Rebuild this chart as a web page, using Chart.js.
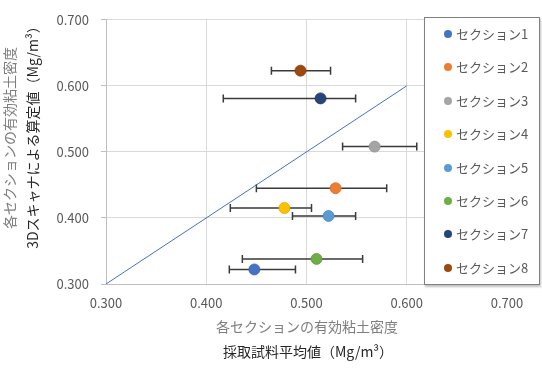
<!DOCTYPE html>
<html lang="ja">
<head>
  <meta charset="UTF-8" />
  <script src="https://cdn.jsdelivr.net/npm/chart.js"></script>
  <title>有効粘土密度</title>
  <style>
    html, body { margin: 0; padding: 0; background: #fff; }
    #wrap { position: relative; width: 542px; height: 368px; }
    #legend {
      position: absolute; left: 424px; top: 17px; width: 114px; height: 266px;
      background: #fff; border: 1px solid #7f7f7f;
      box-shadow: 1px 2px 2px rgba(0,0,0,0.25);
      font-family: "Noto Sans CJK JP", sans-serif; font-size: 13px; color: #595959;
    }
    #legend .item { position: absolute; left: 0; height: 18px; line-height: 18px; white-space: nowrap; }
    #legend .dot { position: absolute; left: 19px; top: 5px; width: 8px; height: 8px; border-radius: 50%; }
    #legend .txt { position: absolute; left: 31px; top: 0; }
  </style>
</head>
<body>
  <div id="wrap">
    <canvas id="chart" width="542" height="368"></canvas>
    <div id="legend"></div>
  </div>

  <script>
    // series data
    const sections = ['セクション1', 'セクション2', 'セクション3', 'セクション4', 'セクション5', 'セクション6', 'セクション7', 'セクション8'];
    const sampleMean = [0.448, 0.529, 0.568, 0.478, 0.522, 0.510, 0.514, 0.494];   // x
    const scanValue  = [0.322, 0.445, 0.508, 0.415, 0.403, 0.338, 0.581, 0.623];   // y
    const errLow     = [0.423, 0.450, 0.536, 0.424, 0.486, 0.436, 0.417, 0.465];
    const errHigh    = [0.489, 0.580, 0.610, 0.505, 0.549, 0.556, 0.549, 0.524];
    const colors     = ['#4472C4', '#ED7D31', '#A5A5A5', '#FFC000', '#5B9BD5', '#70AD47', '#264478', '#9E480E'];
    const borders    = ['#3a63ad', '#d26a22', '#8f8f8f', '#e0a800', '#4a88c0', '#5e963a', '#1b3560', '#843b0a'];
    const lineX      = [0.3, 0.6];   // 1:1 reference line
    const axisTicks  = [0.3, 0.4, 0.5, 0.6, 0.7];

    Chart.defaults.font.family = '"Noto Sans CJK JP", "Noto Sans", sans-serif';

    const datasets = sections.map((name, i) => ({
      type: 'scatter',
      label: name,
      data: [{ x: sampleMean[i], y: scanValue[i] }],
      backgroundColor: colors[i],
      borderColor: borders[i],
      borderWidth: 0.8,
      pointRadius: 5.5,
      pointHoverRadius: 5.5
    }));
    datasets.unshift({
      type: 'line',
      label: '1:1',
      data: lineX.map(v => ({ x: v, y: v })),
      borderColor: '#4472C4',
      borderWidth: 1,
      pointRadius: 0,
      fill: false
    });

    // horizontal error bars
    const errorBars = {
      id: 'errorBars',
      beforeDatasetsDraw(chart) {
        const { ctx, scales: { x, y } } = chart;
        ctx.save();
        ctx.strokeStyle = '#3a3a3a';
        ctx.lineWidth = 1.5;
        sections.forEach((s, i) => {
          const py = y.getPixelForValue(scanValue[i]);
          const x1 = x.getPixelForValue(errLow[i]);
          const x2 = x.getPixelForValue(errHigh[i]);
          ctx.beginPath();
          ctx.moveTo(x1, py); ctx.lineTo(x2, py);
          ctx.moveTo(x1, py - 4); ctx.lineTo(x1, py + 4);
          ctx.moveTo(x2, py - 4); ctx.lineTo(x2, py + 4);
          ctx.stroke();
        });
        ctx.restore();
      }
    };

    // two-colour axis titles
    const axisTitles = {
      id: 'axisTitles',
      afterDraw(chart) {
        const ctx = chart.ctx;
        ctx.save();
        ctx.font = '14px "Noto Sans CJK JP", sans-serif';
        ctx.textAlign = 'center';
        ctx.textBaseline = 'middle';
        ctx.fillStyle = '#7f7f7f';
        ctx.fillText('各セクションの有効粘土密度', 307, 327);
        ctx.fillStyle = '#262626';
        ctx.fillText('採取試料平均値（Mg/m³）', 308, 352);

        ctx.translate(0, 0);
        ctx.save();
        ctx.translate(10, 138);
        ctx.rotate(-Math.PI / 2);
        ctx.fillStyle = '#7f7f7f';
        ctx.fillText('各セクションの有効粘土密度', 0, 0);
        ctx.restore();
        ctx.save();
        ctx.translate(33, 134);
        ctx.rotate(-Math.PI / 2);
        ctx.fillStyle = '#262626';
        ctx.fillText('3Dスキャナによる算定値（Mg/m³）', 0, 0);
        ctx.restore();
        ctx.restore();
      }
    };

    new Chart(document.getElementById('chart'), {
      type: 'scatter',
      data: { datasets },
      options: {
        responsive: false,
        animation: false,
        layout: { padding: { top: 19, right: 35, left: 0, bottom: 0 } },
        plugins: { legend: { display: false }, tooltip: { enabled: false } },
        scales: {
          x: {
            type: 'linear', min: 0.3, max: 0.7,
            afterBuildTicks: s => { s.ticks = axisTicks.map(v => ({ value: v })); },
            afterFit: s => { s.height = 84; },
            grid: { color: '#d9d9d9', drawTicks: false },
            border: { color: '#bfbfbf' },
            ticks: { padding: 11, color: '#595959', font: { size: 13 }, callback: v => v.toFixed(3) }
          },
          y: {
            type: 'linear', min: 0.3, max: 0.7,
            afterBuildTicks: s => { s.ticks = axisTicks.map(v => ({ value: v })); },
            afterFit: s => { s.width = 106; },
            grid: { color: '#d9d9d9', tickLength: 5, tickColor: '#bfbfbf' },
            border: { color: '#bfbfbf' },
            ticks: { padding: 12, color: '#595959', font: { size: 13 }, callback: v => v.toFixed(3) }
          }
        }
      },
      plugins: [errorBars, axisTitles]
    });

    // legend box
    const legend = document.getElementById('legend');
    sections.forEach((name, i) => {
      const item = document.createElement('div');
      item.className = 'item';
      item.style.top = (7 + i * 33.4) + 'px';
      item.innerHTML = '<span class="dot" style="background:' + colors[i] + '"></span><span class="txt">' + name + '</span>';
      legend.appendChild(item);
    });
  </script>
</body>
</html>
